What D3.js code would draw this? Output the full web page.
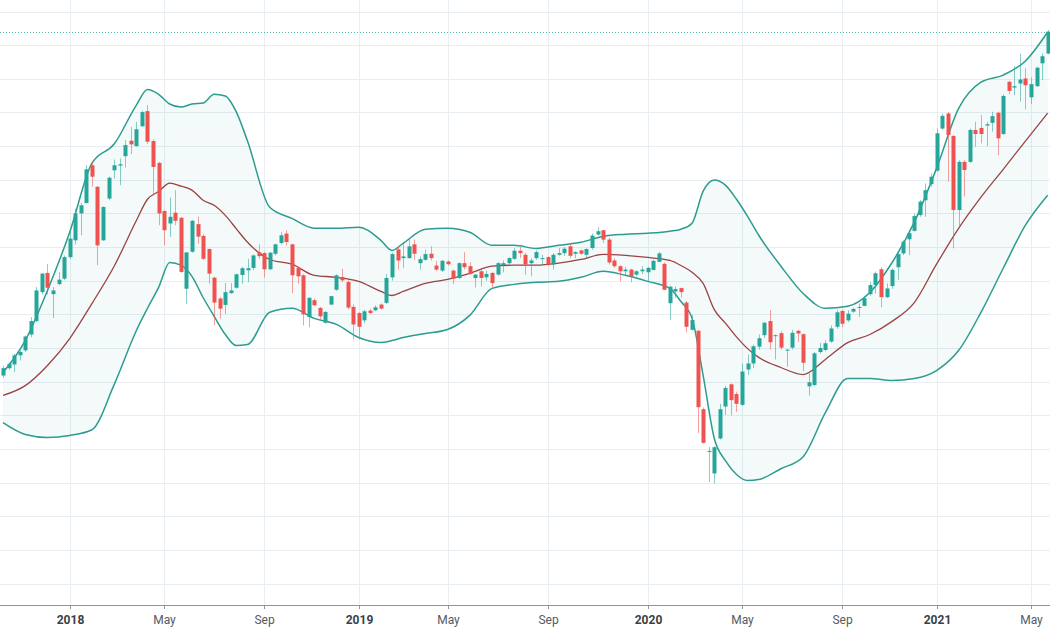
<!DOCTYPE html>
<html>
<head>
<meta charset="utf-8">
<script src="https://cdn.jsdelivr.net/npm/d3@7.9.0/dist/d3.min.js"></script>
<style>
  html, body { margin: 0; padding: 0; background: #fff; }
  svg { display: block; font-family: Roboto, "DejaVu Sans", sans-serif; }
</style>
</head>
<body>
<svg id="chart" width="1050" height="630"></svg>
<script>
// weekly candles, first bar is the week of 9 Oct 2017
const firstWeek = '2017-10-09';

const opens = [
  161.8, 164.0, 165.1, 167.8, 169.3, 174.0, 178.0, 186.6, 192.3, 186.0,
  189.0, 190.6, 197.0, 202.0, 210.0, 213.1, 224.3, 217.9, 202.0, 214.4,
  222.8, 224.2, 227.0, 231.6, 230.0, 235.9, 240.4, 231.5, 225.0, 210.7,
  207.0, 210.2, 208.7, 187.6, 198.6, 206.8, 203.3, 199.4, 190.9, 184.7,
  182.8, 186.3, 187.9, 191.7, 193.1, 193.8, 198.4, 198.2, 193.4, 198.0,
  201.2, 204.0, 200.8, 193.8, 191.6, 179.2, 184.2, 181.9, 177.5, 182.9,
  187.3, 191.1, 189.6, 182.2, 180.4, 178.2, 181.1, 181.2, 182.9, 183.4,
  191.0, 199.3, 196.7, 196.7, 200.8, 195.2, 196.2, 198.0, 194.5, 193.0,
  195.7, 193.0, 190.8, 195.2, 194.3, 190.8, 192.8, 191.0, 192.3, 191.8,
  194.6, 195.2, 196.5, 198.9, 197.7, 195.2, 196.7, 196.4, 197.0, 194.8,
  197.7, 198.2, 200.2, 198.0, 199.0, 197.7, 199.7, 203.7, 205.0, 202.2,
  196.0, 194.3, 192.8, 193.3, 191.8, 192.8, 192.5, 193.2, 195.6, 195.0,
  183.3, 186.8, 187.8, 183.5, 175.4, 175.1, 151.8, 139.1, 132.7, 143.1,
  152.6, 159.2, 156.3, 153.1, 163.6, 165.4, 170.4, 173.8, 178.0, 173.5,
  174.4, 169.2, 170.1, 175.1, 174.1, 158.6, 159.0, 168.8, 169.4, 171.9,
  176.3, 181.0, 178.2, 180.8, 182.2, 182.5, 186.0, 188.7, 193.4, 185.1,
  188.4, 194.0, 198.1, 202.3, 204.8, 209.5, 213.9, 218.7, 222.7, 235.2,
  239.7, 233.0, 211.0, 225.3, 225.3, 234.8, 235.4, 236.1, 236.9, 239.9,
  233.6, 249.1, 247.4, 248.6, 250.1, 244.5, 247.8, 254.6, 257.5
];

const highs = [
  164.8, 165.8, 168.3, 169.3, 173.7, 179.2, 188.1, 192.3, 194.9, 188.1,
  192.6, 197.5, 204.5, 211.4, 213.1, 224.3, 225.6, 218.1, 212.1, 220.9,
  226.0, 226.3, 231.8, 235.7, 237.2, 240.5, 242.2, 232.0, 225.3, 210.9,
  214.7, 216.9, 208.9, 198.5, 208.0, 209.0, 203.8, 199.6, 191.1, 185.1,
  189.3, 189.3, 192.1, 194.1, 196.5, 197.8, 200.8, 198.5, 198.5, 201.0,
  204.5, 205.0, 201.0, 194.0, 191.9, 185.1, 184.7, 182.2, 181.0, 185.5,
  191.9, 193.5, 190.1, 183.0, 180.6, 181.4, 181.7, 182.7, 183.2, 192.0,
  198.3, 200.2, 201.2, 202.5, 202.2, 197.2, 199.2, 200.2, 195.9, 196.2,
  196.0, 193.3, 195.5, 198.5, 195.5, 192.0, 193.5, 193.0, 192.5, 195.5,
  196.0, 197.0, 199.7, 200.0, 198.2, 196.7, 199.0, 197.7, 197.2, 198.2,
  199.7, 200.0, 201.0, 198.7, 199.2, 199.6, 204.0, 205.9, 205.1, 202.7,
  196.7, 194.6, 194.1, 193.5, 193.1, 194.3, 194.1, 196.2, 198.5, 195.4,
  188.5, 188.3, 188.0, 183.9, 179.9, 175.4, 152.3, 140.6, 140.8, 153.4,
  158.7, 159.5, 157.0, 165.4, 168.0, 171.0, 174.0, 177.7, 181.3, 174.0,
  175.0, 169.7, 175.4, 175.4, 174.3, 162.4, 168.8, 171.5, 172.3, 176.7,
  181.2, 181.3, 181.2, 182.0, 183.2, 185.5, 189.6, 192.7, 194.0, 189.2,
  193.7, 198.3, 202.0, 204.6, 210.0, 214.0, 218.9, 221.9, 235.2, 239.7,
  240.2, 233.3, 225.8, 225.8, 235.2, 237.2, 239.2, 237.2, 240.2, 240.2,
  245.4, 249.4, 253.8, 257.5, 253.1, 250.4, 253.6, 257.5, 264.5
];

const lows = [
  161.1, 163.5, 162.8, 166.3, 168.8, 173.2, 177.7, 185.9, 185.9, 178.9,
  188.6, 190.1, 196.5, 200.8, 203.5, 212.9, 217.9, 194.6, 201.8, 213.9,
  220.4, 218.4, 223.6, 227.6, 229.8, 235.7, 230.6, 215.4, 206.5, 200.5,
  203.0, 206.5, 192.3, 183.0, 198.3, 201.0, 196.2, 189.1, 176.8, 178.7,
  180.1, 186.1, 187.6, 189.1, 189.5, 193.1, 196.5, 190.9, 193.1, 197.5,
  200.8, 200.5, 186.3, 189.1, 176.7, 176.2, 182.4, 178.4, 177.2, 182.7,
  187.0, 189.6, 181.4, 172.5, 172.5, 177.4, 180.0, 181.0, 181.4, 183.0,
  190.0, 193.3, 193.8, 196.5, 196.2, 193.3, 195.9, 196.0, 193.0, 192.6,
  194.5, 189.0, 190.5, 193.3, 191.7, 188.0, 188.3, 190.0, 188.0, 191.5,
  192.5, 194.6, 196.2, 196.7, 191.8, 191.3, 196.2, 194.8, 194.3, 193.3,
  197.4, 197.4, 196.7, 196.7, 197.7, 196.7, 199.2, 203.4, 201.2, 194.8,
  193.8, 189.8, 191.3, 189.5, 191.3, 192.0, 189.8, 193.1, 195.5, 187.2,
  178.3, 184.9, 185.0, 174.6, 175.2, 144.7, 141.6, 130.2, 129.7, 142.8,
  150.1, 150.0, 151.0, 152.8, 162.0, 164.0, 169.5, 173.0, 169.5, 166.6,
  169.5, 164.4, 169.5, 171.8, 163.1, 155.8, 158.6, 168.3, 169.0, 171.5,
  175.7, 176.2, 177.7, 180.4, 179.2, 182.4, 185.5, 186.2, 182.1, 184.8,
  187.6, 190.2, 197.6, 197.6, 204.6, 209.0, 209.0, 217.9, 222.4, 234.8,
  219.4, 199.6, 206.0, 215.0, 225.0, 229.8, 230.8, 230.0, 234.3, 227.3,
  233.3, 245.4, 245.1, 243.2, 240.9, 242.5, 247.6, 249.6, 257.3
];

const closes = [
  164.0, 165.3, 167.8, 168.8, 173.4, 178.0, 187.1, 192.1, 187.9, 187.1,
  190.3, 197.0, 202.5, 210.0, 212.4, 223.1, 220.9, 200.5, 211.9, 220.6,
  224.3, 224.6, 230.3, 230.5, 235.0, 240.1, 231.3, 223.8, 210.0, 205.0,
  209.0, 207.8, 192.6, 198.4, 207.8, 203.1, 196.5, 192.1, 183.5, 181.7,
  186.6, 187.1, 191.9, 193.7, 193.7, 197.5, 197.3, 193.4, 198.3, 200.8,
  203.5, 201.5, 191.6, 191.3, 180.0, 184.9, 182.7, 179.4, 180.7, 185.4,
  191.6, 190.1, 182.0, 177.0, 176.3, 180.9, 180.4, 182.1, 181.7, 190.8,
  197.9, 196.0, 197.2, 200.2, 198.0, 196.4, 197.9, 196.7, 193.3, 195.9,
  194.9, 190.6, 195.2, 194.0, 192.0, 191.8, 190.8, 192.0, 189.3, 195.2,
  195.2, 196.7, 198.9, 198.2, 194.8, 196.0, 198.5, 196.7, 194.8, 197.7,
  198.2, 199.5, 197.4, 198.5, 198.0, 199.4, 203.4, 204.7, 202.2, 195.4,
  194.3, 192.8, 193.3, 191.3, 192.8, 193.3, 193.8, 195.9, 198.1, 187.3,
  188.2, 187.5, 186.6, 176.3, 178.3, 152.4, 141.8, 139.4, 140.5, 151.8,
  158.1, 154.5, 153.4, 163.0, 165.4, 170.5, 172.9, 177.5, 171.7, 173.8,
  170.1, 169.5, 174.5, 174.3, 165.6, 159.8, 168.4, 170.0, 171.4, 175.8,
  180.6, 177.2, 180.2, 181.6, 182.0, 184.8, 188.7, 192.2, 185.1, 187.7,
  193.2, 197.9, 201.6, 204.1, 209.2, 213.5, 216.9, 220.9, 233.8, 239.0,
  233.3, 211.0, 225.3, 222.9, 234.8, 233.6, 233.6, 236.5, 238.9, 232.3,
  244.9, 246.4, 247.8, 249.8, 248.1, 248.4, 253.3, 256.7, 264.0
];

// Bollinger band values at these bar numbers
const bandBars = [
  0, 4, 8, 12, 16, 20, 24,
  26, 28, 30, 32, 34, 36, 38, 40, 42, 44,
  48, 52, 56, 60, 64, 68,
  70,
  72, 76, 80, 84, 88, 92, 96, 100, 104, 108, 112, 116, 120,
  122, 124, 126, 128, 130, 132, 134, 136,
  140, 144, 148, 152, 156, 160, 164, 168, 172, 176, 180, 184, 188
];
const upperBand = [
  162.7, 172.2, 187.1, 204.4, 224.9, 230.6, 242.2,
  246.8, 245.4, 242.5, 241.6, 242.5, 242.8, 245.4, 244.9, 240.1, 231.5,
  211.8, 208.5, 205.6, 205.6, 205.9, 202.0,
  199.0,
  201.1, 205.3, 205.6, 204.4, 200.5, 200.5, 199.6, 200.5, 201.4, 203.2, 203.8, 204.1, 204.7,
  205.3, 207.1, 216.6, 219.9, 218.4, 214.2, 209.1, 203.5,
  194.3, 186.2, 181.8, 182.4, 186.5, 195.4, 207.4, 223.4, 241.3, 249.0, 251.1, 255.3, 263.9
];
const basisBand = [
  155.9, 158.8, 164.8, 172.8, 183.2, 194.3, 207.9,
  214.2, 216.5, 219.0, 218.1, 216.9, 213.9, 212.4, 209.4, 205.4, 201.4,
  196.3, 194.9, 191.6, 191.0, 189.8, 186.8,
  185.6,
  186.8, 189.2, 190.4, 192.2, 194.3, 194.6, 194.6, 195.2, 196.3, 197.8, 197.5, 196.9, 196.0,
  194.5, 192.5, 189.2, 181.4, 177.4, 173.3, 169.8, 167.2,
  164.2, 162.1, 166.6, 171.6, 174.0, 177.9, 183.5, 194.9, 205.6, 214.8, 223.1, 231.5, 239.8
];
const lowerBand = [
  147.8, 144.3, 143.4, 144.0, 145.7, 159.1, 175.2,
  181.8, 188.0, 195.4, 194.6, 191.3, 185.0, 179.4, 174.0, 170.7, 171.0,
  180.6, 181.8, 178.8, 177.0, 173.1, 171.6,
  172.2,
  173.1, 174.3, 175.5, 179.7, 187.7, 188.9, 189.5, 189.8, 191.0, 192.8, 191.6, 189.8, 187.7,
  183.8, 178.8, 161.8, 143.1, 136.5, 132.4, 130.6, 130.9,
  134.1, 137.7, 150.8, 160.9, 160.9, 160.3, 160.9, 163.3, 169.3, 180.6, 193.7, 206.5, 215.4
];

const priceGrid = d3.range(100, 271, 10);
const tickDates = ['2018-01-01', '2018-04-30', '2018-09-03', '2018-12-31', '2019-04-22', '2019-08-26',
  '2019-12-30', '2020-04-27', '2020-08-31', '2020-12-28', '2021-04-26'];
const tickLabels = ['2018', 'May', 'Sep', '2019', 'May', 'Sep', '2020', 'May', 'Sep', '2021', 'May'];

const upColor = '#26a69a';
const downColor = '#ef5350';
const width = 1050;
const axisY = 605;

const parse = d3.utcParse('%Y-%m-%d');
const start = parse(firstWeek);
const weeks = closes.map((_, i) => d3.utcDay.offset(start, 7 * i));
const candles = weeks.map((date, i) => ({
  date, open: opens[i], high: highs[i], low: lows[i], close: closes[i]
}));
const bands = bandBars.map((bar, j) => ({
  date: weeks[bar], upper: upperBand[j], basis: basisBand[j], lower: lowerBand[j]
}));

const x = d3.scaleUtc()
  .domain([parse(tickDates[0]), parse(tickDates[tickDates.length - 1])])
  .range([69.7, 1031]);
const y = d3.scaleLinear().domain([100, 270]).range([583.5, 11.5]);

const svg = d3.select('#chart');

// grid
svg.append('g')
  .selectAll('line')
  .data(priceGrid)
  .join('line')
  .attr('x1', 0).attr('x2', width)
  .attr('y1', (d) => Math.round(y(d)) + 0.5)
  .attr('y2', (d) => Math.round(y(d)) + 0.5)
  .attr('stroke', '#e9eef3');

svg.append('g')
  .selectAll('line')
  .data(tickDates)
  .join('line')
  .attr('x1', (d) => Math.round(x(parse(d))) + 0.5)
  .attr('x2', (d) => Math.round(x(parse(d))) + 0.5)
  .attr('y1', 0).attr('y2', axisY)
  .attr('stroke', '#e9eef3');

// bollinger bands
const area = d3.area()
  .x((d) => x(d.date))
  .y0((d) => y(d.lower))
  .y1((d) => y(d.upper))
  .curve(d3.curveMonotoneX);

const bandLine = (key) => d3.line()
  .x((d) => x(d.date))
  .y((d) => y(d[key]))
  .curve(d3.curveMonotoneX);

svg.append('path')
  .attr('d', area(bands))
  .attr('fill', upColor)
  .attr('fill-opacity', 0.055);

['upper', 'lower'].forEach((key) => {
  svg.append('path')
    .attr('d', bandLine(key)(bands))
    .attr('fill', 'none')
    .attr('stroke', '#2c9c90')
    .attr('stroke-width', 1.5);
});

svg.append('path')
  .attr('d', bandLine('basis')(bands))
  .attr('fill', 'none')
  .attr('stroke', '#9a4343')
  .attr('stroke-width', 1.3);

// candles
const color = (d) => (d.close >= d.open ? upColor : downColor);
const cx = (d) => Math.round(x(d.date));

const candleG = svg.append('g');
candleG.selectAll('line')
  .data(candles)
  .join('line')
  .attr('x1', (d) => cx(d) + 0.5)
  .attr('x2', (d) => cx(d) + 0.5)
  .attr('y1', (d) => y(d.high))
  .attr('y2', (d) => y(d.low))
  .attr('stroke', color)
  .attr('stroke-opacity', 0.55);

candleG.selectAll('rect')
  .data(candles)
  .join('rect')
  .attr('x', (d) => cx(d) - 1.5)
  .attr('width', 4)
  .attr('y', (d) => y(Math.max(d.open, d.close)))
  .attr('height', (d) => Math.max(1, Math.abs(y(d.open) - y(d.close))))
  .attr('fill', color);

// last price line
const last = closes[closes.length - 1];
svg.append('line')
  .attr('x1', 0).attr('x2', width)
  .attr('y1', Math.round(y(last)) + 0.5)
  .attr('y2', Math.round(y(last)) + 0.5)
  .attr('stroke', upColor)
  .attr('stroke-opacity', 0.8)
  .attr('stroke-dasharray', '1,2');

// time axis
svg.append('rect')
  .attr('x', 0).attr('y', axisY)
  .attr('width', width).attr('height', 630 - axisY)
  .attr('fill', '#fff');

svg.append('line')
  .attr('x1', 0).attr('x2', width)
  .attr('y1', axisY + 0.5).attr('y2', axisY + 0.5)
  .attr('stroke', '#8f939c');

const ticks = svg.append('g')
  .selectAll('g')
  .data(tickDates)
  .join('g')
  .attr('transform', (d) => `translate(${Math.round(x(parse(d))) + 0.5},${axisY})`);

ticks.append('line')
  .attr('y1', 0).attr('y2', 4)
  .attr('stroke', '#8f939c');

ticks.append('text')
  .attr('y', 19)
  .attr('text-anchor', 'middle')
  .attr('font-size', 12)
  .attr('font-weight', (d, i) => (/^\d{4}$/.test(tickLabels[i]) ? 'bold' : 'normal'))
  .attr('fill', (d, i) => (/^\d{4}$/.test(tickLabels[i]) ? '#3b3f47' : '#555a64'))
  .text((d, i) => tickLabels[i]);
</script>
</body>
</html>
